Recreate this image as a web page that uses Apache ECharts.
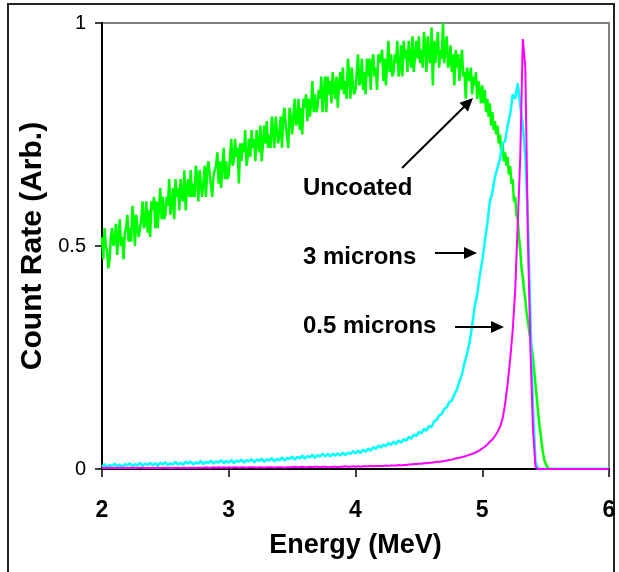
<!DOCTYPE html>
<html>
<head>
<meta charset="utf-8">
<script src="https://cdn.jsdelivr.net/npm/echarts@6/dist/echarts.min.js"></script>
<style>
  html, body { margin: 0; padding: 0; background: #fff; }
  #chart { width: 619px; height: 572px; }
</style>
</head>
<body>
<div id="chart"></div>
<script>
// Fine energy grid (MeV) for the uncoated spectrum
const energyFine = [
  2.00,2.01,2.02,2.03,2.04,2.05,2.06,2.07,2.08,2.09,
  2.10,2.11,2.12,2.13,2.14,2.15,2.16,2.17,2.18,2.19,
  2.20,2.21,2.22,2.23,2.24,2.25,2.26,2.27,2.28,2.29,
  2.30,2.31,2.32,2.33,2.34,2.35,2.36,2.37,2.38,2.39,
  2.40,2.41,2.42,2.43,2.44,2.45,2.46,2.47,2.48,2.49,
  2.50,2.51,2.52,2.53,2.54,2.55,2.56,2.57,2.58,2.59,
  2.60,2.61,2.62,2.63,2.64,2.65,2.66,2.67,2.68,2.69,
  2.70,2.71,2.72,2.73,2.74,2.75,2.76,2.77,2.78,2.79,
  2.80,2.81,2.82,2.83,2.84,2.85,2.86,2.87,2.88,2.89,
  2.90,2.91,2.92,2.93,2.94,2.95,2.96,2.97,2.98,2.99,
  3.00,3.01,3.02,3.03,3.04,3.05,3.06,3.07,3.08,3.09,
  3.10,3.11,3.12,3.13,3.14,3.15,3.16,3.17,3.18,3.19,
  3.20,3.21,3.22,3.23,3.24,3.25,3.26,3.27,3.28,3.29,
  3.30,3.31,3.32,3.33,3.34,3.35,3.36,3.37,3.38,3.39,
  3.40,3.41,3.42,3.43,3.44,3.45,3.46,3.47,3.48,3.49,
  3.50,3.51,3.52,3.53,3.54,3.55,3.56,3.57,3.58,3.59,
  3.60,3.61,3.62,3.63,3.64,3.65,3.66,3.67,3.68,3.69,
  3.70,3.71,3.72,3.73,3.74,3.75,3.76,3.77,3.78,3.79,
  3.80,3.81,3.82,3.83,3.84,3.85,3.86,3.87,3.88,3.89,
  3.90,3.91,3.92,3.93,3.94,3.95,3.96,3.97,3.98,3.99,
  4.00,4.01,4.02,4.03,4.04,4.05,4.06,4.07,4.08,4.09,
  4.10,4.11,4.12,4.13,4.14,4.15,4.16,4.17,4.18,4.19,
  4.20,4.21,4.22,4.23,4.24,4.25,4.26,4.27,4.28,4.29,
  4.30,4.31,4.32,4.33,4.34,4.35,4.36,4.37,4.38,4.39,
  4.40,4.41,4.42,4.43,4.44,4.45,4.46,4.47,4.48,4.49,
  4.50,4.51,4.52,4.53,4.54,4.55,4.56,4.57,4.58,4.59,
  4.60,4.61,4.62,4.63,4.64,4.65,4.66,4.67,4.68,4.69,
  4.70,4.71,4.72,4.73,4.74,4.75,4.76,4.77,4.78,4.79,
  4.80,4.81,4.82,4.83,4.84,4.85,4.86,4.87,4.88,4.89,
  4.90,4.91,4.92,4.93,4.94,4.95,4.96,4.97,4.98,4.99,
  5.00,5.01,5.02,5.03,5.04,5.05,5.06,5.07,5.08,5.09,
  5.10,5.11,5.12,5.13,5.14,5.15,5.16,5.17,5.18,5.19,
  5.20,5.21,5.22,5.23,5.24,5.25,5.26,5.27,5.28,5.29,
  5.30,5.31,5.32,5.33,5.34,5.35,5.36,5.37,5.38,5.39,
  5.40,5.41,5.42,5.43,5.44,5.45,5.46,5.47,5.48,5.49,
  5.50,5.51,5.52,5.53,5.54,5.55,5.56,5.57,5.58,5.59,
  5.60,6.00
];

// Uncoated detector
const uncoated = [
  0.52,0.47,0.54,0.50,0.49,0.45,0.47,0.52,0.54,0.50,
  0.51,0.55,0.48,0.52,0.56,0.50,0.52,0.47,0.53,0.54,
  0.57,0.51,0.54,0.51,0.59,0.56,0.50,0.57,0.54,0.52,
  0.52,0.56,0.60,0.54,0.55,0.60,0.53,0.58,0.52,0.60,
  0.58,0.61,0.54,0.60,0.54,0.59,0.63,0.56,0.61,0.56,
  0.57,0.61,0.59,0.65,0.57,0.59,0.63,0.56,0.65,0.61,
  0.63,0.58,0.65,0.61,0.60,0.67,0.58,0.63,0.65,0.61,
  0.67,0.61,0.64,0.61,0.68,0.66,0.60,0.67,0.64,0.61,
  0.64,0.68,0.61,0.67,0.69,0.66,0.66,0.61,0.66,0.67,
  0.68,0.71,0.64,0.69,0.63,0.68,0.72,0.65,0.69,0.65,
  0.66,0.70,0.74,0.68,0.69,0.74,0.70,0.72,0.64,0.73,
  0.69,0.73,0.71,0.76,0.68,0.70,0.74,0.70,0.76,0.72,
  0.74,0.69,0.76,0.73,0.71,0.77,0.69,0.73,0.77,0.73,
  0.78,0.72,0.75,0.72,0.79,0.76,0.72,0.79,0.76,0.73,
  0.75,0.79,0.72,0.79,0.81,0.77,0.77,0.72,0.81,0.79,
  0.75,0.79,0.83,0.77,0.78,0.83,0.76,0.81,0.75,0.83,
  0.81,0.84,0.78,0.83,0.79,0.82,0.87,0.80,0.84,0.80,
  0.81,0.85,0.83,0.88,0.80,0.84,0.88,0.80,0.88,0.84,
  0.87,0.82,0.89,0.85,0.83,0.88,0.81,0.86,0.89,0.85,
  0.90,0.84,0.87,0.83,0.92,0.89,0.83,0.90,0.86,0.84,
  0.85,0.89,0.93,0.86,0.87,0.92,0.85,0.89,0.84,0.92,
  0.88,0.92,0.85,0.91,0.93,0.88,0.90,0.85,0.93,0.91,
  0.91,0.94,0.87,0.92,0.86,0.91,0.96,0.89,0.93,0.88,
  0.89,0.93,0.91,0.96,0.88,0.90,0.95,0.88,0.96,0.92,
  0.94,0.89,0.96,0.92,0.90,0.97,0.89,0.93,0.96,0.92,
  0.97,0.91,0.94,0.90,0.98,0.95,0.89,0.97,0.92,0.91,
  0.99,0.86,0.96,0.91,0.95,0.98,0.90,0.94,0.92,1.00,
  0.91,0.95,0.97,0.90,0.91,0.95,0.89,0.93,0.86,0.94,
  0.90,0.93,0.87,0.91,0.94,0.88,0.89,0.83,0.90,0.88,
  0.87,0.90,0.84,0.88,0.86,0.89,0.83,0.87,0.85,0.82,
  0.86,0.82,0.85,0.80,0.83,0.79,0.82,0.77,0.80,0.76,
  0.78,0.75,0.77,0.73,0.75,0.71,0.73,0.69,0.71,0.68,
  0.70,0.66,0.68,0.64,0.65,0.60,0.61,0.57,0.56,0.52,
  0.49,0.45,0.43,0.40,0.38,0.35,0.33,0.31,0.29,0.27,
  0.25,0.22,0.19,0.16,0.13,0.10,0.08,0.055,0.035,0.02,
  0.012,0.006,0.003,0,0,0,0,0,0,0,
  0,0
];

// Energy grid (MeV) for the coated spectra
const energy = [
  2.00,2.02,2.04,2.06,2.08,2.10,2.12,2.14,2.16,2.18,
  2.20,2.22,2.24,2.26,2.28,2.30,2.32,2.34,2.36,2.38,
  2.40,2.42,2.44,2.46,2.48,2.50,2.52,2.54,2.56,2.58,
  2.60,2.62,2.64,2.66,2.68,2.70,2.72,2.74,2.76,2.78,
  2.80,2.82,2.84,2.86,2.88,2.90,2.92,2.94,2.96,2.98,
  3.00,3.02,3.04,3.06,3.08,3.10,3.12,3.14,3.16,3.18,
  3.20,3.22,3.24,3.26,3.28,3.30,3.32,3.34,3.36,3.38,
  3.40,3.42,3.44,3.46,3.48,3.50,3.52,3.54,3.56,3.58,
  3.60,3.62,3.64,3.66,3.68,3.70,3.72,3.74,3.76,3.78,
  3.80,3.82,3.84,3.86,3.88,3.90,3.92,3.94,3.96,3.98,
  4.00,4.02,4.04,4.06,4.08,4.10,4.12,4.14,4.16,4.18,
  4.20,4.22,4.24,4.26,4.28,4.30,4.32,4.34,4.36,4.38,
  4.40,4.42,4.44,4.46,4.48,4.50,4.52,4.54,4.56,4.58,
  4.60,4.62,4.64,4.66,4.68,4.70,4.72,4.74,4.76,4.78,
  4.80,4.82,4.84,4.86,4.88,4.90,4.92,4.94,4.96,4.98,
  5.00,5.02,5.04,5.06,5.08,5.10,5.12,5.14,5.16,5.18,
  5.20,5.22,5.24,5.26,5.28,5.30,5.32,5.34,5.36,5.38,
  5.40,5.42,5.44,5.46,5.48,5.50,5.52,5.54,5.56,5.58,
  5.60,5.62,5.64,5.66,5.68,5.70,5.72,5.74,5.76,5.78,
  5.80,5.82,5.84,5.86,5.88,5.90,5.92,5.94,5.96,5.98,
  6.00
];

// 3 micron coating
const coat3 = [
  0.005,0.011,0.004,0.009,0.007,0.012,0.006,0.010,0.004,0.011,
  0.008,0.013,0.006,0.011,0.008,0.014,0.007,0.012,0.009,0.014,
  0.008,0.013,0.007,0.014,0.010,0.015,0.008,0.013,0.010,0.016,
  0.010,0.014,0.009,0.016,0.012,0.017,0.010,0.015,0.012,0.018,
  0.011,0.016,0.013,0.019,0.012,0.017,0.014,0.020,0.013,0.018,
  0.014,0.020,0.013,0.019,0.016,0.021,0.014,0.020,0.017,0.022,
  0.015,0.021,0.018,0.023,0.016,0.022,0.019,0.024,0.017,0.023,
  0.019,0.026,0.019,0.025,0.022,0.028,0.021,0.027,0.024,0.030,
  0.023,0.029,0.026,0.032,0.025,0.031,0.028,0.034,0.028,0.034,
  0.028,0.034,0.030,0.035,0.030,0.037,0.031,0.037,0.034,0.040,
  0.035,0.041,0.036,0.043,0.039,0.046,0.041,0.049,0.045,0.052,
  0.048,0.055,0.051,0.058,0.054,0.061,0.056,0.064,0.059,0.067,
  0.063,0.072,0.068,0.077,0.074,0.083,0.080,0.090,0.086,0.096,
  0.094,0.107,0.110,0.120,0.123,0.135,0.138,0.150,0.153,0.167,
  0.178,0.197,0.212,0.238,0.258,0.284,0.320,0.364,0.390,0.434,
  0.466,0.510,0.550,0.600,0.620,0.655,0.675,0.695,0.730,0.735,
  0.770,0.795,0.840,0.830,0.865,0.815,0.770,0.700,0.560,0.340,
  0.140,0.015,0,0,0,0,0,0,0,0,
  0,0,0,0,0,0,0,0,0,0,
  0,0,0,0,0,0,0,0,0,0,
  0
];

// 0.5 micron coating
const coat05 = [
  0.002,0.003,0.002,0.003,0.002,0.003,0.002,0.003,0.002,0.003,
  0.002,0.003,0.002,0.003,0.002,0.003,0.003,0.002,0.003,0.002,
  0.003,0.002,0.003,0.002,0.003,0.003,0.002,0.003,0.002,0.003,
  0.003,0.002,0.003,0.003,0.002,0.003,0.003,0.002,0.003,0.003,
  0.003,0.004,0.003,0.003,0.004,0.003,0.004,0.003,0.004,0.003,
  0.004,0.003,0.004,0.004,0.003,0.004,0.004,0.003,0.004,0.004,
  0.004,0.003,0.004,0.004,0.003,0.004,0.004,0.004,0.003,0.004,
  0.004,0.004,0.003,0.004,0.004,0.004,0.005,0.004,0.004,0.005,
  0.004,0.004,0.005,0.004,0.005,0.005,0.004,0.005,0.005,0.004,
  0.004,0.005,0.005,0.004,0.005,0.005,0.006,0.005,0.005,0.006,
  0.005,0.006,0.005,0.006,0.006,0.006,0.007,0.006,0.007,0.007,
  0.007,0.007,0.008,0.007,0.008,0.008,0.008,0.009,0.008,0.009,
  0.009,0.010,0.010,0.011,0.011,0.012,0.012,0.013,0.013,0.014,
  0.014,0.015,0.016,0.016,0.017,0.018,0.019,0.020,0.021,0.023,
  0.024,0.025,0.027,0.028,0.030,0.032,0.034,0.036,0.039,0.042,
  0.046,0.050,0.055,0.061,0.066,0.074,0.083,0.094,0.112,0.145,
  0.190,0.245,0.310,0.400,0.550,0.700,0.964,0.900,0.520,0.270,
  0.090,0.005,0,0,0,0,0,0,0,0,
  0,0,0,0,0,0,0,0,0,0,
  0,0,0,0,0,0,0,0,0,0,
  0
];

const xTicks = [2, 3, 4, 5, 6];
const yTicks = [0, 0.5, 1];

const FONT = '"Liberation Sans", Arial, sans-serif';

function pairs(xs, values) {
  return xs.map((e, i) => [e, values[i]]);
}

const chart = echarts.init(document.getElementById('chart'), null, { renderer: 'canvas' });

// arrow helper: shaft plus filled head, in pixel space
function arrow(x1, y1, x2, y2) {
  const dx = x2 - x1, dy = y2 - y1;
  const len = Math.sqrt(dx * dx + dy * dy);
  const ux = dx / len, uy = dy / len;
  const hl = 13, hw = 6;
  const bx = x2 - ux * hl, by = y2 - uy * hl;
  return [
    { type: 'line', silent: true, z: 100,
      shape: { x1: x1, y1: y1, x2: bx + ux * 2, y2: by + uy * 2 },
      style: { stroke: '#000', lineWidth: 2 } },
    { type: 'polygon', silent: true, z: 100,
      shape: { points: [[x2, y2], [bx - uy * hw, by + ux * hw], [bx + uy * hw, by - ux * hw]] },
      style: { fill: '#000' } }
  ];
}

function label(text, x, y) {
  return { type: 'text', silent: true, z: 100, x: x, y: y,
    style: { text: text, font: 'bold 24px ' + FONT, fill: '#000', align: 'left', verticalAlign: 'middle' } };
}

const option = {
  animation: false,
  backgroundColor: '#fff',
  grid: { left: 102, right: 10, top: 23, bottom: 103, show: true,
          borderColor: '#808080', borderWidth: 2, backgroundColor: 'transparent' },
  xAxis: {
    type: 'value', min: 2, max: 6, interval: 1,
    name: 'Energy (MeV)', nameLocation: 'middle', nameGap: 63,
    nameTextStyle: { fontFamily: FONT, fontWeight: 'bold', fontSize: 27, color: '#000' },
    axisLine: { show: true, onZero: false, lineStyle: { color: '#000', width: 2 } },
    axisTick: { show: true, inside: false, length: 8, lineStyle: { color: '#000', width: 1.5 } },
    axisLabel: { margin: 30, fontFamily: FONT, fontWeight: 'bold', fontSize: 23, color: '#000',
      customValues: xTicks },
    splitLine: { show: false }
  },
  yAxis: {
    type: 'value', min: 0, max: 1, interval: 0.5,
    name: 'Count Rate (Arb.)', nameLocation: 'middle', nameGap: 48,
    nameTextStyle: { fontFamily: FONT, fontWeight: 'bold', fontSize: 30, color: '#000' },
    axisLine: { show: true, onZero: false, lineStyle: { color: '#000', width: 2 } },
    axisTick: { show: true, inside: false, length: 7, lineStyle: { color: '#000', width: 1.5 } },
    axisLabel: { margin: 16, fontFamily: FONT, fontSize: 20, color: '#000',
      customValues: yTicks, formatter: v => String(v) },
    splitLine: { show: false }
  },
  series: [
    { name: 'Uncoated', type: 'line', data: pairs(energyFine, uncoated), showSymbol: false, symbol: 'none',
      lineStyle: { color: '#00ff00', width: 2.5 }, z: 2 },
    { name: '3 microns', type: 'line', data: pairs(energy, coat3), showSymbol: false, symbol: 'none',
      lineStyle: { color: '#00ffff', width: 2.5 }, z: 3 },
    { name: '0.5 microns', type: 'line', data: pairs(energy, coat05), showSymbol: false, symbol: 'none',
      lineStyle: { color: '#ff00ff', width: 2 }, z: 4 }
  ],
  graphic: [
    { type: 'rect', silent: true, z: -10,
      shape: { x: 8, y: 4, width: 606, height: 620 },
      style: { fill: 'none', stroke: '#222', lineWidth: 2 } },
    label('Uncoated', 303, 188),
    label('3 microns', 303, 257),
    label('0.5 microns', 303, 326),
    ...arrow(402, 168, 473, 98),
    ...arrow(435, 253, 477, 253),
    ...arrow(455, 327, 504, 327)
  ]
};

chart.setOption(option);
</script>
</body>
</html>
